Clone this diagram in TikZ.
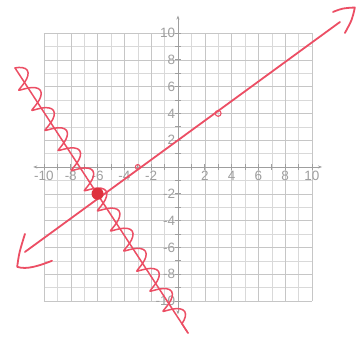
\documentclass[tikz,border=0pt]{standalone}
\usepackage{fontspec}
\setmainfont{Liberation Sans}
\usetikzlibrary{arrows.meta,decorations.pathmorphing}
\definecolor{pen}{RGB}{236,78,100}
\definecolor{dotred}{RGB}{222,50,62}
\tikzset{
  gridline/.style={draw=gray!30, line width=0.5pt},
  axisline/.style={draw=gray!75, line width=0.7pt, {Stealth[length=4pt]}-{Stealth[length=4pt]}},
  ticklbl/.style={text=gray!75, font=\fontsize{13.5}{13.5}\selectfont, inner sep=0.5pt},
  penline/.style={draw=pen, line width=1.8pt, line cap=round, line join=round},
}
\begin{document}
\begin{tikzpicture}[x=13.4pt,y=13.4pt]
\useasboundingbox[fill=white] (-13.28,-13.06) rectangle (13.51,12.46);
% grid
\foreach \k in {-10,...,10} {
  \draw[gridline] (\k,-10) -- (\k,10);
  \draw[gridline] (-10,\k) -- (10,\k);
}
\foreach \k in {-10,-8,...,10} {
  \draw[draw=gray!45, line width=0.5pt] (\k,-10) -- (\k,10);
  \draw[draw=gray!45, line width=0.5pt] (-10,\k) -- (10,\k);
}
% axes
\draw[axisline] (-10.8,0) -- (10.75,0);
\draw[axisline] (0,-11) -- (0,11.3);
\foreach \k in {-10,...,-1,1,2,...,10} {
  \draw[gray!75, line width=0.6pt] (\k,-0.2) -- (\k,0.2);
  \draw[gray!75, line width=0.6pt] (-0.2,\k) -- (0.2,\k);
}
% labels
\foreach \k in {-10,-8,-6,-4,-2,2,4,6,8,10} {
  \node[ticklbl, anchor=north] (xl\k) at (\k,-0.25) {\k};
  \node[ticklbl, anchor=east] (yl\k) at (-0.15,\k) {\k};
}
% line 1 with arrowheads
\coordinate (a1) at (-11.42,-6.34);
\coordinate (a2) at (12.09,10.82);
\draw[penline] (a1) -- (a2);
\draw[penline] (-11.42,-5.0) .. controls (-11.85,-6.4) .. (-12.0,-7.45)
   .. controls (-11.3,-7.7) and (-10.3,-7.35) .. (-9.4,-7.0);
\draw[penline] (11.57,11.57) .. controls (12.3,11.85) .. (13.2,11.9)
   .. controls (13.0,11.0) .. (12.46,10.0);
% line 2 (squiggly)
\coordinate (b1) at (-12.16,7.39);
\coordinate (b2) at (0.75,-12.39);
\draw[penline, line width=1.5pt] (b1) -- (b2);
\draw[penline, line width=1.5pt, decorate,
      decoration={coil, amplitude=9pt, segment length=24pt, aspect=0.3}] (b1) -- (b2);
% points
\fill[dotred] (-6,-2) circle (0.45);
\draw[pen, line width=1.1pt] (3,4) circle (0.22);
\draw[pen, line width=1.1pt] (-3,0) circle (0.18);
\end{tikzpicture}
\end{document}
